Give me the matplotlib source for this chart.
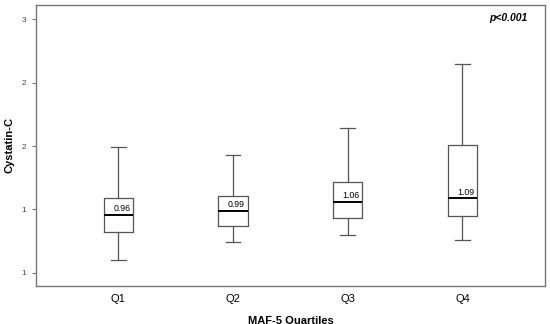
import numpy as np
import matplotlib.pyplot as plt

plt.rcParams['font.family'] = ['Liberation Sans', 'DejaVu Sans']

# data
groups = ["Q1", "Q2", "Q3", "Q4"]
whislo = [0.60, 0.74, 0.80, 0.76]
q1 = [0.82, 0.87, 0.93, 0.95]
med = [0.96, 0.99, 1.06, 1.09]
q3 = [1.09, 1.11, 1.22, 1.505]
whishi = [1.49, 1.43, 1.64, 2.15]
yticks = [0.5, 1.0, 1.5, 2.0, 2.5]

stats = []
for i in range(len(groups)):
    stats.append({"label": groups[i], "whislo": whislo[i], "q1": q1[i],
                  "med": med[i], "q3": q3[i], "whishi": whishi[i], "fliers": []})

fig = plt.figure(figsize=(5.5, 3.24), dpi=100)
ax = fig.add_axes([0.065, 0.117, 0.926, 0.868])

pos = np.arange(1, len(groups) + 1)
grey = "#555555"
ax.bxp(stats, positions=pos, widths=0.256, showfliers=False,
       boxprops=dict(color=grey, linewidth=0.9),
       whiskerprops=dict(color=grey, linewidth=0.9),
       capprops=dict(color=grey, linewidth=0.9),
       medianprops=dict(color="black", linewidth=1.4))

# median values printed above the median line
for p, m in zip(pos, med):
    ax.text(p + 0.03, m + 0.012, "%.2f" % m, ha="center", va="bottom", fontsize=6.3)

ax.set_xlim(0.28, 4.72)
ax.set_ylim(0.395, 2.615)
ax.set_yticks(yticks)
# labels are rounded half up like in the original
ax.set_yticklabels([str(int(np.floor(v + 0.5))) for v in yticks])
ax.tick_params(axis="y", labelsize=6, colors=grey, length=3, width=0.6, pad=4)
ax.tick_params(axis="x", labelsize=8, length=0, pad=6)
for lab in ax.get_yticklabels():
    lab.set_color("#444444")

for s in ax.spines.values():
    s.set_color("#777777")
    s.set_linewidth(1.0)

ax.set_ylabel("Cystatin-C", fontsize=8, fontweight="bold")
ax.yaxis.set_label_coords(-0.041, 0.5)
ax.set_xlabel("MAF-5 Quartiles", fontsize=8, fontweight="bold", labelpad=8)
ax.text(0.965, 0.955, "p<0.001", transform=ax.transAxes, ha="right", va="center",
        fontsize=7.5, fontweight="bold", fontstyle="italic")

fig.savefig("out.png", dpi=100)
